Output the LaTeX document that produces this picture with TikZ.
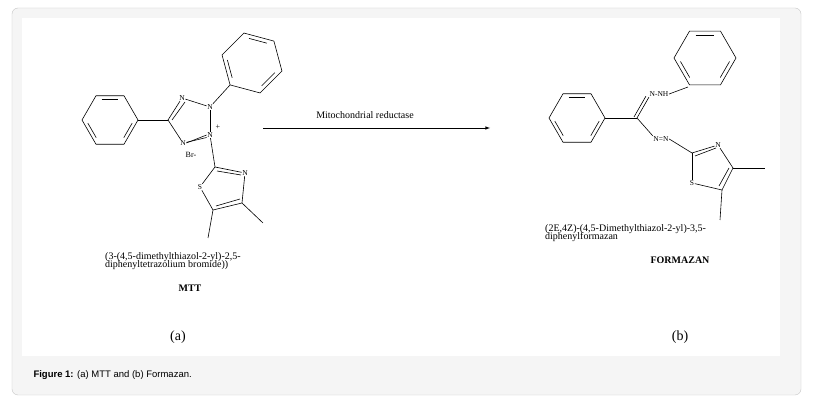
\documentclass[tikz,border=0pt]{standalone}
\usepackage{fontspec}
\usetikzlibrary{calc}
\setmainfont{Liberation Serif}
\newfontfamily\capfont{Liberation Sans}
\begin{document}
\begin{tikzpicture}[x=1pt,y=-1pt,
  bond/.style={line width=0.6pt},
  atom/.style={font=\fontsize{7.5}{7.5}\selectfont,inner sep=0.5pt,fill=white},
  lab/.style={font=\fontsize{10}{9}\selectfont,inner sep=0pt,align=left}]
\useasboundingbox (0,0) rectangle (815,403);
\fill[white] (0,0) rectangle (815,403);
\draw[gray!45,fill=gray!8,rounded corners=6pt] (12,8) rectangle (801,395);
\fill[white] (22,18) rectangle (780,356);
% ring macro
\newcommand{\hexring}[4]{% center x,y, radius, start angle
  \draw[bond] ($(#1,#2)+(#4:#3)$) \foreach \k in {1,...,5}{ -- ($(#1,#2)+(#4+60*\k:#3)$)} -- cycle;
  \foreach \k in {0,2,4}{\draw[bond] ($(#1,#2)+(#4+60*\k+8:#3*0.8)$) -- ($(#1,#2)+(#4+60*\k+52:#3*0.8)$);}
}
% ===== MTT =====
\hexring{110}{120}{28}{0}
\hexring{252}{63}{31}{135}
\coordinate (c5) at (168,120);
\node[atom] (n1) at (182,98) {N};
\node[atom] (n2) at (210,107) {N};
\node[atom] (n3) at (210,135) {N};
\node[atom] (n4) at (183,143) {N};
\node[font=\fontsize{8}{8}\selectfont] (br) at (191,155) {Br-};
\node[font=\fontsize{8}{8}\selectfont] (pl) at (218,127) {+};
\draw[bond] (138,120) -- (c5);
\draw[bond] (c5) -- (n1); \draw[bond] ($(c5)+(4,0)$) -- ($(n1)+(3,4)$);
\draw[bond] (c5) -- (n4);
\draw[bond] (n1) -- (n2);
\draw[bond] (n2) -- (n3);
\draw[bond] (n3.west) -- (n4.east); \draw[bond] ([yshift=-2.5pt]n3.west) -- ([yshift=-2.5pt]n4.north east);
\draw[bond] (n2) -- (230,85);
% thiazole MTT
\coordinate (t2) at (215,167);
\node[atom] (tn) at (245,173) {N};
\coordinate (t4) at (242,203);
\coordinate (t5) at (213,210);
\node[atom] (ts) at (200,187) {S};
\draw[bond] (n3) -- (t2);
\draw[bond] (t2) -- (tn); \draw[bond] ($(t2)+(2,4)$) -- ($(tn)+(-4,2)$);
\draw[bond] (tn) -- (t4);
\draw[bond] (t4) -- (t5); \draw[bond] ($(t4)+(-2,-4)$) -- ($(t5)+(3,-4)$);
\draw[bond] (t5) -- (ts); \draw[bond] (ts) -- (t2);
\draw[bond] (t4) -- (263,223); \draw[bond] (t5) -- (208,238);
\node[lab,anchor=north west] (mttname) at (105,252) {(3-(4,5-dimethylthiazol-2-yl)-2,5-\\[-1.5pt]diphenyltetrazolium bromide))};
\node[lab,font=\fontsize{10}{9}\selectfont\bfseries] (mtt) at (190,288) {MTT};
\node[font=\fontsize{14}{14}\selectfont] (a) at (178,337) {(a)};
% arrow
\coordinate (ar1) at (263,128); \coordinate (ar2) at (490,128);
\draw[bond,-latex] (ar1) -- (ar2);
\node[lab] (arl) at (365,115) {Mitochondrial reductase};
% ===== Formazan =====
\hexring{577}{118}{28}{0}
\hexring{705}{58}{31}{120}
\coordinate (fc) at (637,118);
\draw[bond] (605,118) -- (fc);
\node[atom] (nnh) at (659,94) {N-NH};
\node[atom] (nn) at (661,139) {N=N};
\draw[bond] (fc) -- (nnh.south west); \draw[bond] ($(fc)+(-3,-1)$) -- ($(nnh.south west)+(-3,-1)$);
\draw[bond] (fc) -- (nn.north west);
\draw[bond] (nnh.east) -- (688,87);
\coordinate (f2) at (692,153);
\node[atom] (fn) at (718,145) {N};
\coordinate (f4) at (733,168);
\coordinate (f5) at (722,190);
\node[atom] (fs) at (692,183) {S};
\draw[bond] (nn.east) -- (f2);
\draw[bond] (f2) -- (fn); \draw[bond] ($(f2)+(3,3)$) -- ($(fn)+(-2,3)$);
\draw[bond] (fn) -- (f4);
\draw[bond] (f4) -- (f5); \draw[bond] ($(f4)+(-4,0)$) -- ($(f5)+(-3,-4)$);
\draw[bond] (f5) -- (fs); \draw[bond] (fs) -- (f2);
\draw[bond] (f4) -- (765,168); \draw[bond] (f5) -- (720,220);
\node[lab,anchor=north west] (fzname) at (545,224) {(2E,4Z)-(4,5-Dimethylthiazol-2-yl)-3,5-\\[-1.5pt]diphenylformazan};
\node[lab,font=\fontsize{10}{9}\selectfont\bfseries] (fz) at (680,260) {FORMAZAN};
\node[font=\fontsize{14}{14}\selectfont] (b) at (680,337) {(b)};
% caption
\node[anchor=west,font=\capfont\fontsize{9.5}{10}\selectfont] (cap) at (30,375) {\textbf{Figure 1:} (a) MTT and (b) Formazan.};
\end{tikzpicture}
\end{document}
